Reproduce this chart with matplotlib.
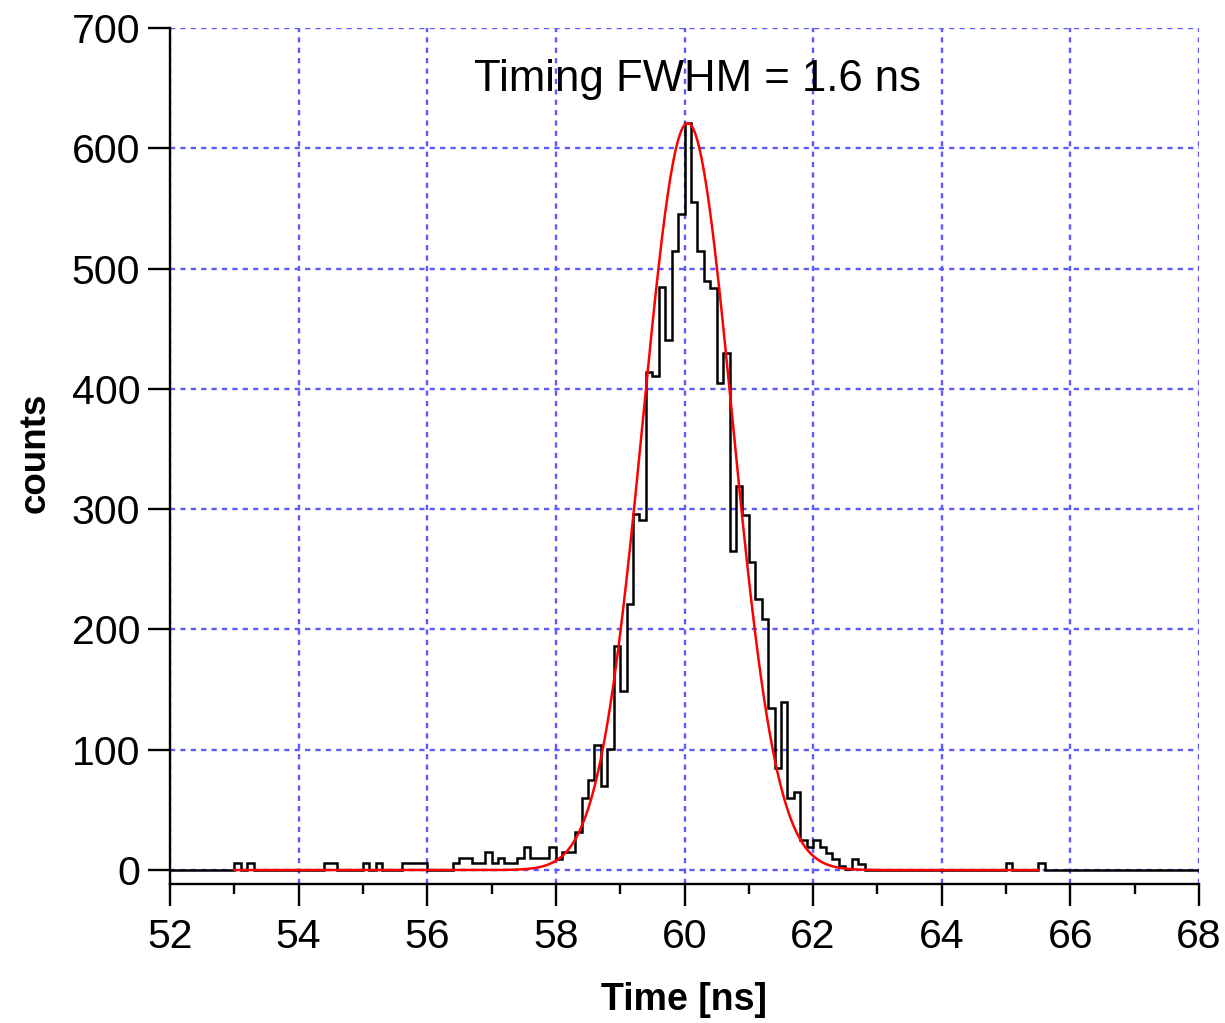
import matplotlib
matplotlib.use('Agg')
import numpy as np
import matplotlib.pyplot as plt
from matplotlib.ticker import MultipleLocator

plt.rcParams['font.family'] = ['Liberation Sans', 'DejaVu Sans']

# histogram: left edge of each non-empty 0.1 ns bin and its counts
bin_left = [53.0, 53.2, 54.4, 54.5, 55.0, 55.2, 55.6, 55.7, 55.8, 55.9,
            56.4, 56.5, 56.6, 56.7, 56.8, 56.9, 57.0, 57.1, 57.2, 57.3,
            57.4, 57.5, 57.6, 57.7, 57.8, 57.9, 58.0, 58.1, 58.2, 58.3,
            58.4, 58.5, 58.6, 58.7, 58.8, 58.9, 59.0, 59.1, 59.2, 59.3,
            59.4, 59.5, 59.6, 59.7, 59.8, 59.9, 60.0, 60.1, 60.2, 60.3,
            60.4, 60.5, 60.6, 60.7, 60.8, 60.9, 61.0, 61.1, 61.2, 61.3,
            61.4, 61.5, 61.6, 61.7, 61.8, 61.9, 62.0, 62.1, 62.2, 62.3,
            62.4, 62.5, 62.6, 62.7, 65.0, 65.5]
counts = [6, 6, 6, 6, 6, 6, 6, 6, 6, 6,
          6, 10, 10, 6, 6, 15, 6, 10, 6, 6,
          10, 19, 10, 10, 10, 19, 9, 15, 15, 32,
          60, 75, 104, 70, 101, 186, 149, 221, 296, 291,
          414, 411, 485, 441, 515, 545, 621, 555, 515, 490,
          484, 405, 430, 265, 319, 295, 256, 225, 209, 135,
          85, 140, 60, 65, 25, 19, 25, 19, 14, 9,
          3, 1, 9, 5, 6, 6]

# gaussian fit shown in red
fit_amp = 621.0
fit_mean = 60.05
fit_fwhm = 1.63
fit_range = (53.0, 65.5)

edges = np.round(np.arange(52.0, 68.0001, 0.1), 1)
hist = np.zeros(len(edges) - 1)
for t, c in zip(bin_left, counts):
    hist[int(round((t - 52.0) * 10))] = c

sigma = fit_fwhm / (2 * np.sqrt(2 * np.log(2)))
xf = np.linspace(fit_range[0], fit_range[1], 600)
yf = fit_amp * np.exp(-(xf - fit_mean) ** 2 / (2 * sigma ** 2))

W, H = 1225, 1023
fig = plt.figure(figsize=(W / 100, H / 100), dpi=100)
ax = fig.add_axes([170 / W, 1 - 884 / H, (1199 - 170) / W, (884 - 28) / H])

ax.stairs(hist, edges, color='black', linewidth=1.8, zorder=3)
ax.plot(xf, yf, color='red', linewidth=1.8, zorder=4)

ax.set_xlim(52, 68)
ax.set_ylim(-11.6, 700)
ax.xaxis.set_major_locator(MultipleLocator(2))
ax.xaxis.set_minor_locator(MultipleLocator(1))
ax.yaxis.set_major_locator(MultipleLocator(100))

ax.grid(True, which='major', color='#5a5aff', linestyle=(0, (2.2, 2.2)),
        linewidth=1.7, zorder=1)
ax.set_axisbelow(True)

for s in ['top', 'right']:
    ax.spines[s].set_visible(False)
for s in ['left', 'bottom']:
    ax.spines[s].set_linewidth(1.7)

ax.tick_params(axis='both', which='major', direction='out', length=15.5,
               width=1.7, labelsize=29.5, pad=6)
ax.tick_params(axis='x', which='major', pad=9)
ax.tick_params(axis='x', which='minor', direction='out', length=7, width=1.7)

fig.text(698 / W, 1 - 80 / H, 'Timing FWHM = 1.6 ns', ha='center', va='center',
         fontsize=31.5)
fig.text(684 / W, 1 - 1000 / H, 'Time [ns]', ha='center', va='center',
         fontsize=27, fontweight='bold')
fig.text(35 / W, 1 - 453 / H, 'counts', ha='center', va='center',
         fontsize=26.5, fontweight='bold', rotation=90)

fig.savefig('out.png', dpi=100)
